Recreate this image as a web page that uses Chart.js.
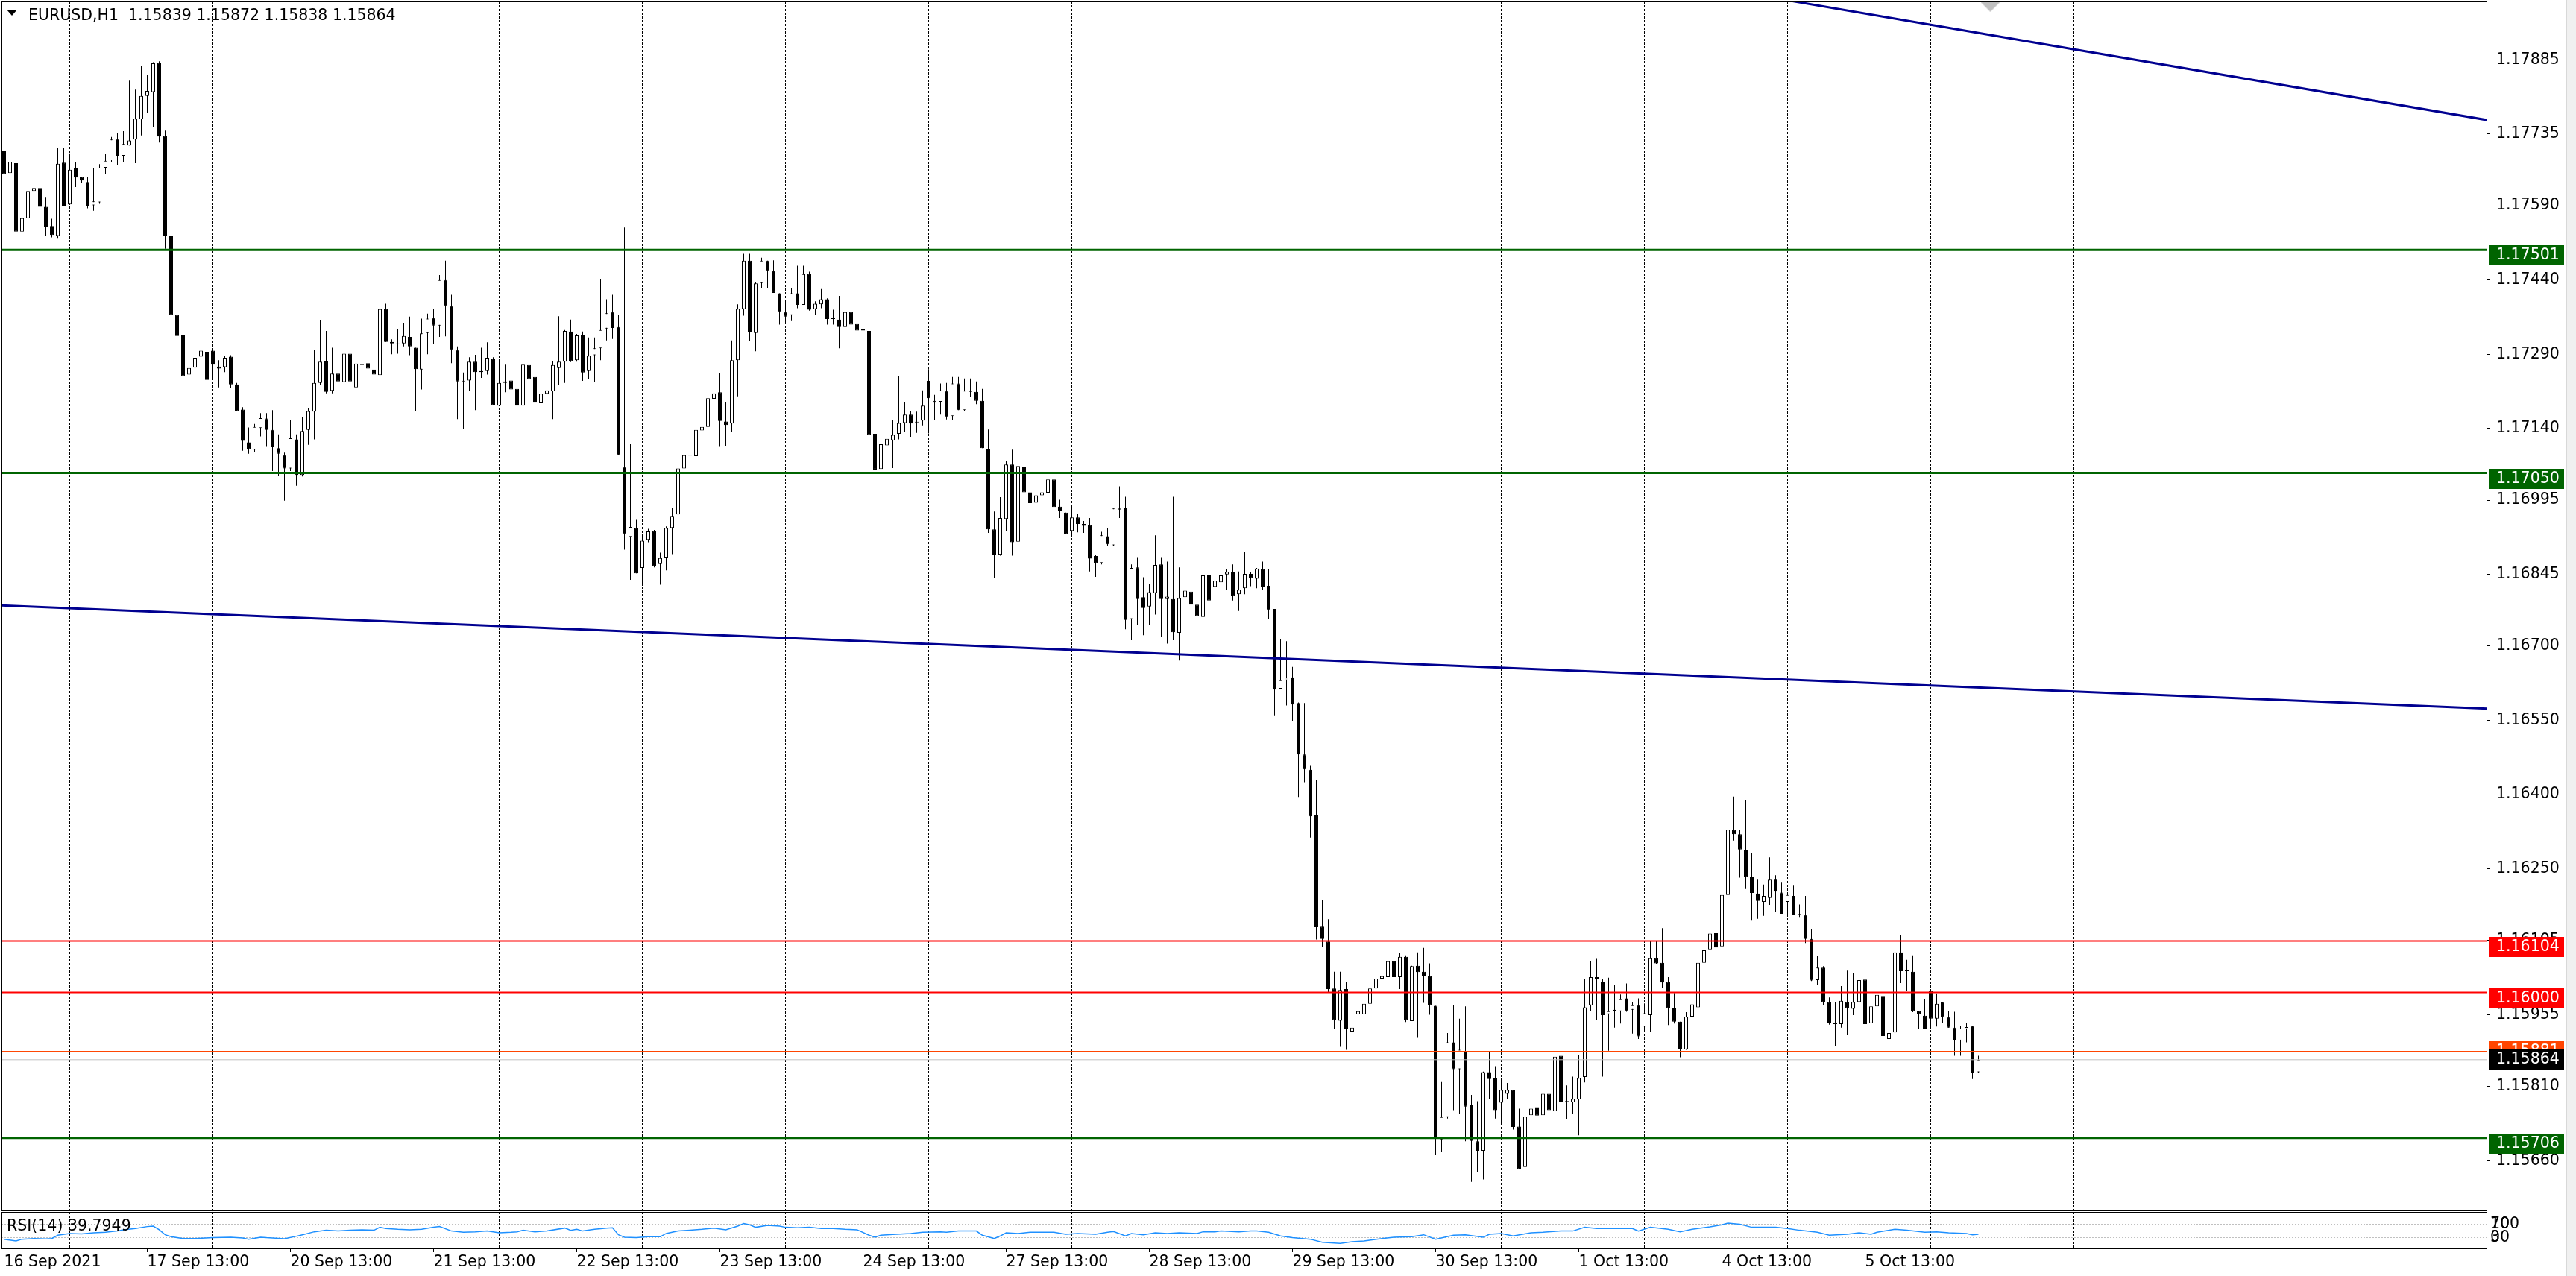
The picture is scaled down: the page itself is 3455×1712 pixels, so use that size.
<!DOCTYPE html>
<html><head><meta charset="utf-8">
<script src="https://cdn.jsdelivr.net/npm/chart.js@4.4.1/dist/chart.umd.min.js"></script>
<style>
html,body{margin:0;padding:0;background:#fff;}
body{width:3455px;height:1712px;position:relative;overflow:hidden;font-family:'DejaVu Sans';}
canvas{position:absolute;left:0;}
#main{top:0;}
#rsi{top:1626px;}
.lbl{position:absolute;font-size:20.5px;line-height:24px;white-space:pre;color:#000;}
#title{left:38px;top:8px;}
#tri{position:absolute;left:9px;top:13px;width:0;height:0;border-left:7px solid transparent;border-right:7px solid transparent;border-top:8px solid #000;}
#rsiLabel{left:9px;top:1632px;}
#edge{position:absolute;left:3442px;top:0;width:13px;height:1712px;background:#f0f0f0;border-left:1px solid #d8d8d8;}
</style></head>
<body>
<canvas id="main" width="3455" height="1626"></canvas>
<canvas id="rsi" width="3455" height="86"></canvas>
<div id="tri"></div>
<div id="title" class="lbl">EURUSD,H1  1.15839 1.15872 1.15838 1.15864</div>
<div id="rsiLabel" class="lbl">RSI(14) 39.7949</div>
<div id="edge"></div>
<script>
// ---------- DATA (EURUSD H1, bar 0 = 16 Sep 2021 13:00) ----------
const opens = [
1.17700,1.17656,1.17676,1.17538,1.17565,1.17620,1.17626,1.17588,1.17549,1.17529,
1.17677,1.17593,1.17667,1.17648,1.17638,1.17591,1.17597,1.17667,1.17682,1.17725,
1.17691,1.17712,1.17724,1.17765,1.17812,1.17820,1.17879,1.17731,1.17530,1.17370,
1.17328,1.17249,1.17263,1.17285,1.17295,1.17297,1.17265,1.17264,1.17285,1.17229,
1.17178,1.17112,1.17097,1.17141,1.17160,1.17137,1.17100,1.17086,1.17059,1.17118,
1.17046,1.17137,1.17174,1.17232,1.17277,1.17216,1.17251,1.17234,1.17291,1.17223,
1.17268,1.17272,1.17259,1.17248,1.17381,1.17315,1.17310,1.17312,1.17325,1.17303,
1.17259,1.17333,1.17363,1.17348,1.17440,1.17388,1.17299,1.17236,1.17237,1.17275,
1.17256,1.17256,1.17281,1.17186,1.17232,1.17237,1.17220,1.17186,1.17268,1.17244,
1.17191,1.17210,1.17215,1.17262,1.17275,1.17336,1.17278,1.17328,1.17256,1.17288,
1.17302,1.17342,1.17375,1.17345,1.17062,1.16921,1.16939,1.16858,1.16915,1.16933,
1.16866,1.16879,1.16939,1.16966,1.17059,1.17085,1.17084,1.17136,1.17143,1.17200,
1.17213,1.17154,1.17150,1.17278,1.17381,1.17479,1.17333,1.17434,1.17479,1.17459,
1.17413,1.17376,1.17369,1.17413,1.17390,1.17452,1.17381,1.17391,1.17401,1.17362,
1.17360,1.17345,1.17376,1.17351,1.17340,1.17337,1.17129,1.17058,1.17106,1.17116,
1.17129,1.17151,1.17168,1.17153,1.17156,1.17236,1.17196,1.17194,1.17216,1.17165,
1.17231,1.17177,1.17214,1.17214,1.17196,1.17099,1.16936,1.16885,1.16957,1.17067,
1.16911,1.17063,1.17011,1.16990,1.17005,1.17010,1.17037,1.16982,1.16970,1.16933,
1.16960,1.16943,1.16945,1.16882,1.16868,1.16922,1.16904,1.16978,1.16980,1.16755,
1.16859,1.16799,1.16780,1.16807,1.16865,1.16795,1.16795,1.16727,1.16799,1.16810,
1.16784,1.16759,1.16843,1.16820,1.16829,1.16845,1.16849,1.16805,1.16817,1.16846,
1.16836,1.16856,1.16822,1.16775,1.16614,1.16631,1.16637,1.16585,1.16481,1.16450,
1.16358,1.16133,1.16103,1.16008,1.15943,1.16007,1.15921,1.15956,1.15956,1.15977,
1.16008,1.16028,1.16031,1.16064,1.16031,1.16072,1.15942,1.16054,1.16042,1.16033,
1.15973,1.15703,1.15748,1.15899,1.15845,1.15881,1.15772,1.15699,1.15680,1.15839,
1.15826,1.15777,1.15795,1.15803,1.15729,1.15647,1.15752,1.15768,1.15752,1.15795,
1.15760,1.15872,1.15780,1.15778,1.15784,1.15829,1.15974,1.16031,1.16022,1.15956,
1.15965,1.15962,1.15988,1.15965,1.15974,1.15931,1.15954,1.16069,1.16060,1.16021,
1.15969,1.15941,1.15885,1.15951,1.15970,1.16060,1.16087,1.16120,1.16093,1.16197,
1.16329,1.16320,1.16287,1.16233,1.16200,1.16183,1.16191,1.16229,1.16202,1.16183,
1.16195,1.16158,1.16157,1.16108,1.16025,1.16050,1.15980,1.15938,1.15936,1.15981,
1.15967,1.15981,1.16026,1.15938,1.15972,1.15993,1.15906,1.15919,1.16081,1.16044,
1.16042,1.15962,1.15953,1.16003,1.15947,1.15980,1.15950,1.15929,1.15903,1.15926,
1.15932,1.15839];
const highs = [
1.17713,1.17737,1.17692,1.17608,1.17679,1.17662,1.17637,1.17608,1.17564,1.17706,
1.17706,1.17696,1.17679,1.17648,1.17648,1.17667,1.17674,1.17694,1.17729,1.17738,
1.17741,1.17843,1.17825,1.17872,1.17854,1.17880,1.17882,1.17742,1.17564,1.17397,
1.17359,1.17312,1.17294,1.17314,1.17303,1.17300,1.17278,1.17286,1.17288,1.17232,
1.17183,1.17142,1.17149,1.17171,1.17171,1.17177,1.17128,1.17091,1.17157,1.17128,
1.17163,1.17181,1.17298,1.17359,1.17337,1.17303,1.17272,1.17298,1.17295,1.17297,
1.17288,1.17282,1.17300,1.17386,1.17392,1.17320,1.17341,1.17352,1.17366,1.17303,
1.17362,1.17372,1.17382,1.17450,1.17479,1.17410,1.17306,1.17253,1.17284,1.17289,
1.17303,1.17314,1.17284,1.17279,1.17269,1.17238,1.17221,1.17295,1.17273,1.17244,
1.17229,1.17253,1.17276,1.17367,1.17339,1.17360,1.17331,1.17336,1.17324,1.17324,
1.17441,1.17401,1.17410,1.17369,1.17546,1.17108,1.16955,1.16925,1.16937,1.16935,
1.16889,1.16942,1.16979,1.17084,1.17088,1.17125,1.17166,1.17238,1.17283,1.17316,
1.17252,1.17193,1.17318,1.17391,1.17493,1.17493,1.17435,1.17485,1.17479,1.17480,
1.17413,1.17397,1.17424,1.17469,1.17469,1.17457,1.17397,1.17422,1.17403,1.17380,
1.17408,1.17403,1.17398,1.17376,1.17366,1.17363,1.17190,1.17189,1.17155,1.17157,
1.17246,1.17193,1.17175,1.17174,1.17217,1.17260,1.17208,1.17231,1.17232,1.17244,
1.17244,1.17241,1.17241,1.17235,1.17220,1.17138,1.16972,1.17001,1.17075,1.17097,
1.17087,1.17063,1.17089,1.17045,1.17064,1.17047,1.17075,1.16996,1.16970,1.16982,
1.16967,1.16953,1.16959,1.16884,1.16931,1.16939,1.16978,1.17023,1.17002,1.16865,
1.16880,1.16839,1.16826,1.16924,1.16880,1.16871,1.17002,1.16859,1.16892,1.16854,
1.16810,1.16852,1.16884,1.16855,1.16857,1.16856,1.16865,1.16851,1.16891,1.16850,
1.16858,1.16871,1.16855,1.16775,1.16715,1.16710,1.16658,1.16586,1.16585,1.16458,
1.16430,1.16187,1.16148,1.16042,1.16042,1.16022,1.15973,1.15976,1.15982,1.16018,
1.16033,1.16053,1.16075,1.16079,1.16079,1.16075,1.16054,1.16081,1.16090,1.16059,
1.15973,1.15819,1.15918,1.15975,1.15947,1.15972,1.15793,1.15780,1.15840,1.15881,
1.15851,1.15823,1.15817,1.15803,1.15765,1.15751,1.15786,1.15779,1.15808,1.15795,
1.15879,1.15905,1.15812,1.15830,1.15873,1.16027,1.16064,1.16068,1.16027,1.16030,
1.16016,1.15996,1.16018,1.15980,1.15988,1.15978,1.16104,1.16104,1.16130,1.16031,
1.15999,1.15941,1.15960,1.15993,1.16085,1.16086,1.16155,1.16177,1.16210,1.16332,
1.16396,1.16329,1.16388,1.16282,1.16228,1.16218,1.16273,1.16237,1.16222,1.16200,
1.16216,1.16178,1.16195,1.16128,1.16073,1.16053,1.15990,1.15980,1.16013,1.16044,
1.16040,1.16027,1.16027,1.16047,1.16047,1.16008,1.15922,1.16126,1.16116,1.16066,
1.16075,1.15962,1.15986,1.16005,1.15998,1.15981,1.15962,1.15961,1.15933,1.15938,
1.15933,1.15872];
const lows = [
1.17611,1.17648,1.17512,1.17495,1.17529,1.17546,1.17575,1.17530,1.17526,1.17525,
1.17590,1.17593,1.17628,1.17636,1.17585,1.17580,1.17594,1.17655,1.17679,1.17672,
1.17678,1.17712,1.17676,1.17732,1.17778,1.17750,1.17718,1.17503,1.17334,1.17282,
1.17240,1.17238,1.17246,1.17282,1.17238,1.17238,1.17223,1.17254,1.17221,1.17175,
1.17095,1.17089,1.17092,1.17124,1.17103,1.17054,1.17044,1.16994,1.17054,1.17024,
1.17043,1.17107,1.17118,1.17227,1.17211,1.17211,1.17229,1.17214,1.17219,1.17198,
1.17223,1.17246,1.17243,1.17226,1.17315,1.17290,1.17291,1.17306,1.17288,1.17175,
1.17219,1.17290,1.17311,1.17325,1.17326,1.17272,1.17159,1.17139,1.17216,1.17177,
1.17242,1.17249,1.17187,1.17185,1.17213,1.17209,1.17160,1.17157,1.17230,1.17180,
1.17159,1.17206,1.17159,1.17228,1.17232,1.17274,1.17275,1.17236,1.17240,1.17233,
1.17278,1.17318,1.17321,1.17086,1.16895,1.16834,1.16847,1.16822,1.16910,1.16859,
1.16824,1.16853,1.16886,1.16963,1.17043,1.17065,1.17055,1.17053,1.17091,1.17186,
1.17103,1.17104,1.17133,1.17205,1.17368,1.17317,1.17296,1.17424,1.17424,1.17414,
1.17350,1.17355,1.17357,1.17383,1.17390,1.17378,1.17370,1.17383,1.17350,1.17350,
1.17302,1.17302,1.17301,1.17323,1.17274,1.17118,1.17057,1.16996,1.17034,1.17060,
1.17118,1.17133,1.17123,1.17131,1.17146,1.17130,1.17157,1.17168,1.17158,1.17157,
1.17177,1.17175,1.17204,1.17189,1.17100,1.16929,1.16838,1.16883,1.16933,1.16883,
1.16907,1.16897,1.16959,1.16958,1.16989,1.16993,1.16981,1.16959,1.16927,1.16920,
1.16930,1.16929,1.16851,1.16840,1.16865,1.16902,1.16902,1.16959,1.16734,1.16712,
1.16742,1.16722,1.16742,1.16764,1.16718,1.16705,1.16712,1.16671,1.16764,1.16761,
1.16743,1.16745,1.16792,1.16795,1.16816,1.16814,1.16792,1.16771,1.16805,1.16821,
1.16817,1.16814,1.16755,1.16560,1.16614,1.16580,1.16549,1.16395,1.16425,1.16313,
1.16107,1.16092,1.16001,1.15927,1.15890,1.15884,1.15903,1.15936,1.15954,1.15970,
1.15970,1.16003,1.16022,1.16029,1.16007,1.15940,1.15942,1.15908,1.15979,1.15955,
1.15671,1.15678,1.15745,1.15762,1.15754,1.15699,1.15617,1.15637,1.15622,1.15784,
1.15745,1.15732,1.15784,1.15723,1.15643,1.15621,1.15709,1.15738,1.15749,1.15739,
1.15754,1.15762,1.15744,1.15755,1.15711,1.15818,1.15963,1.15944,1.15830,1.15882,
1.15929,1.15937,1.15961,1.15917,1.15906,1.15920,1.15920,1.16058,1.16009,1.15934,
1.15937,1.15869,1.15884,1.15949,1.15953,1.15988,1.16049,1.16074,1.16070,1.16182,
1.16307,1.16232,1.16209,1.16145,1.16149,1.16155,1.16177,1.16162,1.16159,1.16152,
1.16156,1.16151,1.16100,1.16023,1.16015,1.15974,1.15935,1.15892,1.15929,1.15914,
1.15954,1.15951,1.15894,1.15918,1.15972,1.15854,1.15798,1.15914,1.16019,1.16003,
1.15960,1.15927,1.15927,1.15931,1.15931,1.15938,1.15929,1.15872,1.15872,1.15899,
1.15825,1.15838];
const closes = [
1.17654,1.17679,1.17538,1.17565,1.17620,1.17626,1.17588,1.17548,1.17531,1.17675,
1.17590,1.17663,1.17647,1.17641,1.17590,1.17599,1.17667,1.17681,1.17724,1.17691,
1.17715,1.17722,1.17766,1.17812,1.17822,1.17878,1.17730,1.17530,1.17370,1.17327,
1.17246,1.17262,1.17283,1.17297,1.17238,1.17269,1.17261,1.17283,1.17229,1.17175,
1.17115,1.17098,1.17143,1.17161,1.17137,1.17102,1.17089,1.17059,1.17120,1.17046,
1.17135,1.17175,1.17232,1.17275,1.17214,1.17251,1.17235,1.17291,1.17235,1.17271,
1.17269,1.17261,1.17249,1.17381,1.17315,1.17312,1.17312,1.17327,1.17306,1.17260,
1.17332,1.17362,1.17348,1.17440,1.17388,1.17299,1.17235,1.17235,1.17275,1.17254,
1.17254,1.17283,1.17187,1.17232,1.17235,1.17219,1.17186,1.17269,1.17240,1.17192,
1.17210,1.17217,1.17268,1.17275,1.17337,1.17276,1.17328,1.17253,1.17287,1.17302,
1.17339,1.17373,1.17343,1.17086,1.16926,1.16941,1.16847,1.16913,1.16932,1.16862,
1.16878,1.16939,1.16963,1.17059,1.17086,1.17086,1.17137,1.17143,1.17201,1.17211,
1.17155,1.17147,1.17278,1.17382,1.17479,1.17334,1.17433,1.17479,1.17458,1.17414,
1.17375,1.17366,1.17413,1.17390,1.17452,1.17380,1.17392,1.17401,1.17361,1.17361,
1.17345,1.17375,1.17350,1.17338,1.17338,1.17127,1.17057,1.17108,1.17119,1.17127,
1.17151,1.17168,1.17150,1.17152,1.17186,1.17201,1.17192,1.17217,1.17163,1.17231,
1.17177,1.17216,1.17216,1.17196,1.17100,1.16936,1.16885,1.16959,1.17067,1.16910,
1.17064,1.17011,1.16989,1.17005,1.17011,1.17037,1.16981,1.16974,1.16927,1.16960,
1.16947,1.16947,1.16877,1.16868,1.16924,1.16906,1.16978,1.16976,1.16753,1.16858,
1.16795,1.16777,1.16809,1.16864,1.16795,1.16800,1.16728,1.16797,1.16812,1.16784,
1.16761,1.16843,1.16792,1.16832,1.16843,1.16850,1.16802,1.16814,1.16846,1.16838,
1.16857,1.16819,1.16773,1.16612,1.16631,1.16636,1.16582,1.16481,1.16451,1.16356,
1.16132,1.16108,1.16007,1.15944,1.16005,1.15927,1.15929,1.15962,1.15977,1.16008,
1.16028,1.16033,1.16063,1.16031,1.16072,1.15944,1.16053,1.16041,1.16034,1.15974,
1.15706,1.15748,1.15899,1.15845,1.15884,1.15769,1.15700,1.15680,1.15839,1.15825,
1.15762,1.15803,1.15803,1.15728,1.15643,1.15749,1.15765,1.15751,1.15795,1.15762,
1.15870,1.15778,1.15779,1.15785,1.15827,1.15970,1.16031,1.16028,1.15954,1.15962,
1.15962,1.15986,1.15962,1.15974,1.15911,1.15958,1.16069,1.16059,1.16020,1.15968,
1.15941,1.15885,1.15951,1.15976,1.16060,1.16085,1.16119,1.16091,1.16197,1.16329,
1.16320,1.16289,1.16234,1.16201,1.16185,1.16195,1.16228,1.16204,1.16159,1.16197,
1.16156,1.16157,1.16108,1.16024,1.16050,1.15980,1.15939,1.15936,1.15983,1.15968,
1.15981,1.16025,1.15936,1.15972,1.15995,1.15912,1.15918,1.16081,1.16043,1.16043,
1.15962,1.15956,1.15927,1.15947,1.15977,1.15950,1.15929,1.15903,1.15927,1.15930,
1.15838,1.15864];

const priceTicks = [1.17885,1.17735,1.17590,1.17440,1.17290,1.17140,1.16995,1.16845,1.16700,1.16550,1.16400,1.16250,1.16105,1.15955,1.15810,1.15660];
const xLabels = ['16 Sep 2021','17 Sep 13:00','20 Sep 13:00','21 Sep 13:00','22 Sep 13:00','23 Sep 13:00','24 Sep 13:00','27 Sep 13:00','28 Sep 13:00','29 Sep 13:00','30 Sep 13:00','1 Oct 13:00','4 Oct 13:00','5 Oct 13:00'];
const labelBars = [0,24,48,72,96,120,144,168,192,216,240,264,288,312];
const dayStartBars = [11,35,59,83,107,131,155,179,203,227,251,275,299,323,347];
const greenLevels = [1.17501,1.17050,1.15706];
const redLevels = [1.16104,1.16000];
const askPrice = 1.15881;
const bidPrice = 1.15864;
const trend1Bars = [-10,430], trend1Prices = [1.16787,1.16567];
const trend2Bars = [290,430], trend2Prices = [1.18024,1.17735];
const markerBars = [333], markerPrices = [1.17992];
const rsiBars = [0,2,3,5,7,8,9,11,13,15,17,19,20,22,24,25,26,27,28,30,32,35,38,40,41,43,44,47,49,50,52,54,56,58,60,62,63,64,66,68,70,72,73,75,77,79,81,83,85,86,87,89,91,94,95,96,97,99,101,102,103,104,106,108,110,111,113,115,117,119,121,123,124,125,126,128,130,131,133,135,137,139,141,143,145,146,147,149,152,154,157,158,160,163,164,166,167,168,170,172,176,178,180,183,185,186,188,189,191,193,195,197,200,201,203,204,207,209,210,212,214,216,219,221,224,226,228,231,233,236,238,240,243,245,248,249,251,253,256,258,261,263,265,267,269,273,274,276,279,281,283,286,288,289,291,293,297,299,301,304,306,309,311,313,314,317,319,322,324,326,329,330,331];
const rsiValues = [24.8,19.6,24.8,27,25.6,27,36.7,41.9,40.4,44,45.6,49.3,53,56.7,62.6,64,53,38,32.2,27,27,29.3,30.7,28.5,24.8,30.7,29.3,26.3,33.7,38.1,47,51.5,49.3,51.5,53,51.5,60.4,56.7,54.4,53,54.4,60.4,62.6,49.3,45.6,47,49.3,44,45.6,47,51.5,47,49.3,58.1,51.5,54.4,49.3,54.4,58.1,58.9,38.1,30.7,29.3,32.2,32.2,41.9,49.3,51.5,54.4,58.1,53,64,71.5,67.8,60.4,66.3,64,60.4,58.9,60.4,56.7,56.7,54.4,53,36.7,30.7,36.7,39,41.9,45.6,47,45.6,49.3,49.3,36.7,27,34.4,44,41.9,45.6,45.6,39.6,41.9,39.6,45.6,47.8,34.4,41.9,38.1,44,41.9,44,41.9,47,47,49.3,47,49.3,49.3,45.6,34.4,29.3,24.8,15.9,12.2,17.4,19.6,27,30.7,32.2,38.1,24.8,36.7,38.1,30.7,39.6,41.9,34.4,44,45.6,49.3,49.3,60.4,56.7,56.7,56.7,49.3,60.4,54.4,47,54.4,61.9,67.8,73,69.3,60.4,60.4,56.7,51.5,45.6,36.7,39.6,44,39.6,45.6,54.4,51.5,45.6,47,44,41.9,38.1,39.79];
const rsiLevels = [30,70];

// ---------- STYLE / LAYOUT ----------
const FONT = {family:'DejaVu Sans', size:20.5};
const X_MIN = -0.4375, X_MAX = 416.3125;
const Y_MIN = 1.155579, Y_MAX = 1.1800296;
const AXIS_W = 119;
Chart.defaults.font.family = 'DejaVu Sans';
Chart.defaults.font.size = 20.5;
Chart.defaults.color = '#000';

const framePlugin = {
  id:'frame',
  afterDraw(chart){
    const a = chart.chartArea, c = chart.ctx;
    c.save(); c.strokeStyle = '#000'; c.lineWidth = 1;
    c.strokeRect(a.left+0.5, a.top+0.5, a.right-a.left-1, a.bottom-a.top-1);
    c.restore();
  }
};
const tagPlugin = {
  id:'tags',
  afterDraw(chart){
    const c = chart.ctx, y = chart.scales.y;
    const bx = y.left + 2, bw = 101, tx = y.left + 12;
    c.save();
    c.font = '20.5px "DejaVu Sans"'; c.textBaseline = 'middle'; c.textAlign = 'left';
    const tag = (p, color, off) => {
      const top = Math.round(y.getPixelForValue(p)) + off;
      c.fillStyle = color; c.fillRect(bx, top, bw, 27);
      c.fillStyle = '#fff'; c.fillText(p.toFixed(5), tx, top + 14);
    };
    greenLevels.forEach(p => tag(p, '#006400', -6));
    redLevels.forEach(p => tag(p, '#ff0000', -6));
    tag(askPrice, '#ff4500', -14);
    tag(bidPrice, '#000000', -14);
    c.restore();
  }
};
const rsiExtraPlugin = {
  id:'rsiExtra',
  afterDraw(chart){
    const c = chart.ctx, y = chart.scales.y;
    c.save(); c.font = '20.5px "DejaVu Sans"'; c.textBaseline='middle'; c.textAlign='left'; c.fillStyle='#000';
    c.fillText('100', y.left + 4, y.getPixelForValue(70));
    c.fillText('0', y.left + 4, y.getPixelForValue(30));
    c.restore();
  }
};

// marker image (grey down-triangle)
const tri = document.createElement('canvas'); tri.width = 26; tri.height = 13;
(function(){const t = tri.getContext('2d'); t.fillStyle='#c0c0c0'; t.beginPath(); t.moveTo(0,0); t.lineTo(26,0); t.lineTo(13,13); t.closePath(); t.fill();})();

const hLine = (p, color, w) => ({type:'line', data:[{x:-10,y:p},{x:430,y:p}], borderColor:color, borderWidth:w, pointRadius:0, clip:0, order:0});

const datasets = [];
greenLevels.forEach(p => datasets.push(hLine(p, '#006400', 3)));
redLevels.forEach(p => datasets.push(hLine(p, '#ff0000', 2)));
datasets.push(hLine(bidPrice, '#c0c0c0', 1));
datasets.push(hLine(askPrice, '#ff4500', 1));
datasets.push({type:'line', data: trend1Bars.map((x,k)=>({x, y:trend1Prices[k]})), borderColor:'#000090', borderWidth:3, pointRadius:0, clip:0, order:0});
datasets.push({type:'line', data: trend2Bars.map((x,k)=>({x, y:trend2Prices[k]})), borderColor:'#000090', borderWidth:3, pointRadius:0, clip:0, order:0});
datasets.push({type:'scatter', data: markerBars.map((x,k)=>({x, y:markerPrices[k]})), pointStyle: tri, pointRadius: 10, order:0});
datasets.push({type:'bar', data: opens.map((o,i)=>({x:i, y:[o, closes[i]]})),
  backgroundColor: opens.map((o,i)=> closes[i] >= o ? '#ffffff' : '#000000'),
  borderColor:'#000', borderWidth:1, borderSkipped:false, grouped:false, inflateAmount:0,
  barPercentage:1, categoryPercentage:1, maxBarThickness:5, minBarLength:1, order:1});
datasets.push({type:'bar', data: lows.map((l,i)=>({x:i, y:[l, highs[i]]})),
  backgroundColor:'#000', borderWidth:0, grouped:false, inflateAmount:0,
  barPercentage:1, categoryPercentage:1, maxBarThickness:1, order:2});

new Chart(document.getElementById('main'), {
  type:'bar',
  data:{datasets},
  options:{
    responsive:false, animation:false, events:[],
    layout:{padding:{left:2, top:2, right:0, bottom:1}, autoPadding:false},
    plugins:{legend:{display:false}, tooltip:{enabled:false}},
    scales:{
      x:{type:'linear', min:X_MIN, max:X_MAX, offset:false,
         afterBuildTicks: s => { s.ticks = dayStartBars.map(v => ({value:v})); },
         ticks:{display:false},
         grid:{offset:false, color:'#000', lineWidth:1, drawTicks:false, drawOnChartArea:true},
         border:{display:false, dash:[3,2]},
         afterFit: s => { s.height = 0; s.paddingLeft = 0; s.paddingRight = 0; }},
      y:{type:'linear', position:'right', min:Y_MIN, max:Y_MAX, beginAtZero:false,
         afterBuildTicks: s => { s.ticks = priceTicks.map(v => ({value:v})); },
         ticks:{font:FONT, color:'#000', padding:8, callback: v => Number(v).toFixed(5)},
         grid:{drawOnChartArea:false, drawTicks:true, tickLength:4, tickColor:'#000'},
         border:{display:false},
         afterFit: s => { s.width = AXIS_W; s.paddingTop = 0; s.paddingBottom = 0; }}
    }
  },
  plugins:[framePlugin, tagPlugin]
});

new Chart(document.getElementById('rsi'), {
  type:'line',
  data:{datasets:[{data: rsiBars.map((x,k)=>({x, y:rsiValues[k]})), borderColor:'#1e90ff', borderWidth:1.5, pointRadius:0, tension:0, xAxisID:'x', yAxisID:'y'}]},
  options:{
    responsive:false, animation:false, events:[],
    layout:{padding:{left:2, top:0, right:0, bottom:0}, autoPadding:false},
    plugins:{legend:{display:false}, tooltip:{enabled:false}},
    scales:{
      x:{type:'linear', position:'bottom', min:X_MIN, max:X_MAX, offset:false,
         afterBuildTicks: s => { s.ticks = labelBars.map(v => ({value:v})); },
         ticks:{display:true, autoSkip:false, maxRotation:0, minRotation:0, align:'start', padding:1, font:FONT, color:'#000',
                callback: (v, i) => xLabels[i]},
         grid:{offset:false, drawOnChartArea:false, drawTicks:true, tickLength:4, tickColor:'#000', color:'#000'},
         border:{display:false},
         afterFit: s => { s.height = 36; s.paddingLeft = 0; s.paddingRight = 0; }},
      xg:{type:'linear', axis:'x', position:'bottom', min:X_MIN, max:X_MAX, offset:false,
         afterBuildTicks: s => { s.ticks = dayStartBars.map(v => ({value:v})); },
         ticks:{display:false},
         grid:{offset:false, color:'#000', lineWidth:1, drawTicks:false, drawOnChartArea:true},
         border:{display:false, dash:[3,2]},
         afterFit: s => { s.height = 0; s.paddingLeft = 0; s.paddingRight = 0; }},
      y:{type:'linear', position:'right', min:-4.9, max:106.2,
         afterBuildTicks: s => { s.ticks = rsiLevels.map(v => ({value:v})); },
         ticks:{font:FONT, color:'#000', padding:4, callback: v => String(v)},
         grid:{drawOnChartArea:true, drawTicks:false, color:'#c0c0c0'},
         border:{display:false, dash:[2,2]},
         afterFit: s => { s.width = AXIS_W; s.paddingTop = 0; s.paddingBottom = 0; }}
    }
  },
  plugins:[framePlugin, rsiExtraPlugin]
});
</script>
</body></html>
